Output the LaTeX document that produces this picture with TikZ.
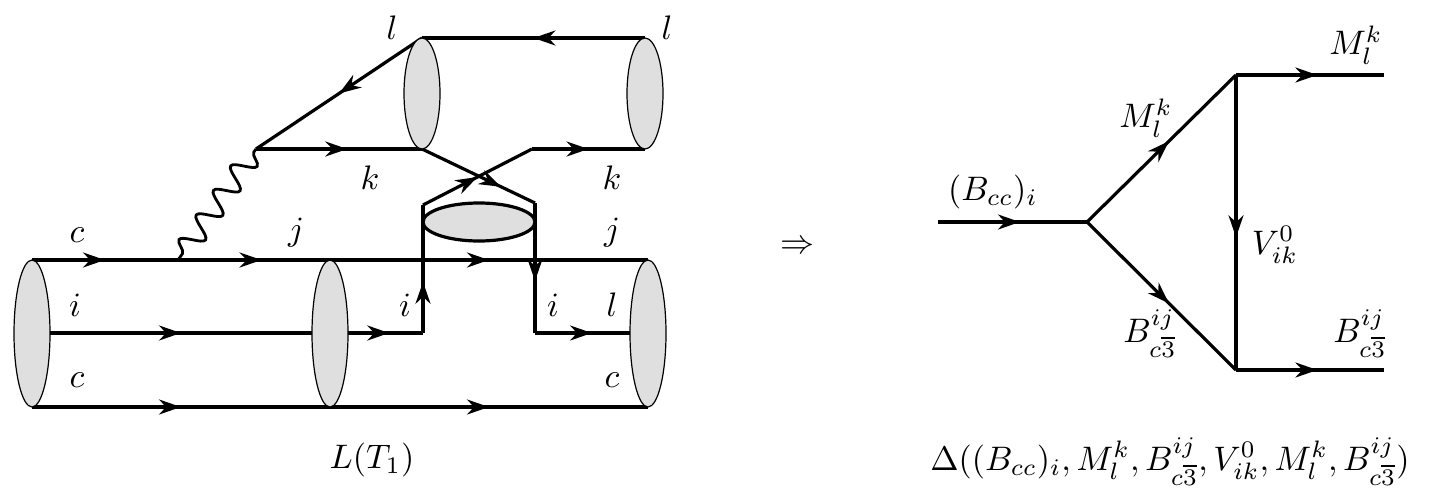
\documentclass[tikz,border=0pt]{standalone}
\usepackage{graphicx}
\usetikzlibrary{decorations.markings,decorations.pathmorphing,arrows.meta,shapes.geometric}
\newcommand\bgt[1]{\scalebox{3.4}{#1}}
\begin{document}
\begin{tikzpicture}[x=1pt,y=-1pt,line width=3.2pt,
  lbl/.style={inner sep=0},
  blob/.style={draw,line width=1.2pt,fill=gray!25},
  ar/.style={postaction={decorate},decoration={markings,mark=at position #1 with {\arrow{Stealth[length=22pt,width=15pt]}}}},
  ar/.default=0.5]
\useasboundingbox (0,0) rectangle (1445,490);
% coordinates
\coordinate (A1) at (32,260); \coordinate (A2) at (32,407); \coordinate (Am) at (50,333);
\coordinate (B1) at (330,260); \coordinate (B2) at (330,407); \coordinate (Bl) at (312,333); \coordinate (Br) at (348,333);
\coordinate (C1) at (648,260); \coordinate (C2) at (648,407); \coordinate (Cl) at (630,333);
\coordinate (D1) at (422,38); \coordinate (D2) at (422,149);
\coordinate (E1) at (645,38); \coordinate (E2) at (645,149);
\coordinate (V) at (256,149); \coordinate (W) at (178,260);
\coordinate (P1) at (423,333); \coordinate (P2) at (423,205); \coordinate (P3) at (532,149);
\coordinate (Q1) at (535,203); \coordinate (Q2) at (535,333);
% lines
\draw[ar=0.5] (A1) -- (W);
\draw[ar=0.55] (W) -- (B1);
\draw[ar=0.5] (B1) -- (C1);
\draw[ar=0.5] (A2) -- (B2);
\draw[ar=0.5] (B2) -- (C2);
\draw[ar=0.5] (Am) -- (Bl);
\draw[ar=0.55] (Br) -- (P1);
\draw[ar=0.4] (P1) -- (P2);
\draw[ar=0.5] (P2) -- (P3);
\draw[ar=0.5] (P3) -- (E2);
\draw[ar=0.7] (D2) -- (Q1);
\draw[ar=0.6] (Q1) -- (Q2);
\draw[ar=0.6] (Q2) -- (Cl);
\draw[ar=0.5] (E1) -- (D1);
\draw[ar=0.5] (D1) -- (V);
\draw[ar=0.55] (V) -- (D2);
\draw[line width=2.8pt,decorate,decoration={snake,amplitude=11pt,segment length=30pt,pre length=4pt,post length=4pt}] (V) -- (W);
% blobs
\node[blob,ellipse,minimum width=36pt,minimum height=147pt,inner sep=0] (eA) at (32,333.5) {};
\node[blob,ellipse,minimum width=36pt,minimum height=147pt,inner sep=0] (eB) at (330,333.5) {};
\node[blob,ellipse,minimum width=36pt,minimum height=147pt,inner sep=0] (eC) at (648,333.5) {};
\node[blob,ellipse,minimum width=36pt,minimum height=111pt,inner sep=0] (eD) at (422,93.5) {};
\node[blob,ellipse,minimum width=36pt,minimum height=111pt,inner sep=0] (eE) at (645,93.5) {};
\node[blob,ellipse,line width=3.2pt,minimum width=112pt,minimum height=38pt,inner sep=0] (eS) at (479,222) {};
% labels
\node[lbl] (t1) at (392,28) {\bgt{$l$}}; \node[lbl] (t2) at (667,28) {\bgt{$l$}};
\node[lbl] (t3) at (370,178) {\bgt{$k$}}; \node[lbl] (t4) at (612,178) {\bgt{$k$}};
\node[lbl] (t5) at (77,235) {\bgt{$c$}}; \node[lbl] (t6) at (296,233) {\bgt{$j$}}; \node[lbl] (t7) at (612,233) {\bgt{$j$}};
\node[lbl] (t8) at (75,305) {\bgt{$i$}}; \node[lbl] (t9) at (405,305) {\bgt{$i$}}; \node[lbl] (t10) at (553,305) {\bgt{$i$}}; \node[lbl] (t11) at (612,305) {\bgt{$l$}};
\node[lbl] (t12) at (77,380) {\bgt{$c$}}; \node[lbl] (t13) at (612,380) {\bgt{$c$}};
\node[lbl] (t14) at (372,460) {\bgt{$L(T_1)$}};
\node[lbl] (t15) at (797,247) {\bgt{$\Rightarrow$}};
% right diagram
\coordinate (R0) at (938,222); \coordinate (R1) at (1087,222);
\coordinate (R2) at (1236,75); \coordinate (R3) at (1236,370);
\coordinate (R4) at (1384,75); \coordinate (R5) at (1384,370);
\draw[ar=0.55] (R0) -- (R1);
\draw[ar=0.55] (R1) -- (R2);
\draw[ar=0.55] (R1) -- (R3);
\draw[ar=0.55] (R2) -- (R3);
\draw[ar=0.55] (R2) -- (R4);
\draw[ar=0.55] (R3) -- (R5);
\node[lbl] (u1) at (993,192) {\bgt{$(B_{cc})_i$}};
\node[lbl] (u2) at (1146,118) {\bgt{$M_l^k$}};
\node[lbl] (u3) at (1150,334) {\bgt{$B_{c\overline{3}}^{ij}$}};
\node[lbl] (u4) at (1275,245) {\bgt{$V_{ik}^0$}};
\node[lbl] (u5) at (1356,45) {\bgt{$M_l^k$}};
\node[lbl] (u6) at (1360,334) {\bgt{$B_{c\overline{3}}^{ij}$}};
\node[lbl] (u7) at (1170,462) {\bgt{$\Delta((B_{cc})_i,M_l^k,B_{c\overline{3}}^{ij},V_{ik}^0,M_l^k,B_{c\overline{3}}^{ij})$}};
\end{tikzpicture}
\end{document}
